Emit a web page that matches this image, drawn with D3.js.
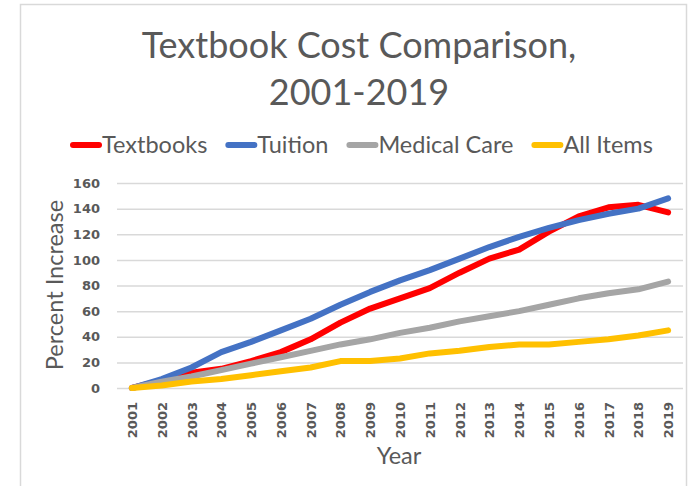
<!DOCTYPE html>
<html>
<head>
<meta charset="utf-8">
<script src="https://cdn.jsdelivr.net/npm/d3@7"></script>
<style>
  html, body { margin: 0; padding: 0; background: #fff; }
  svg { display: block; }
</style>
</head>
<body>
<svg id="chart" width="700" height="486"></svg>
<script>
// ─── DATA ─────────────────────────────────────────────────────────────────────
const years = ['2001', '2002', '2003', '2004', '2005', '2006', '2007', '2008', '2009', '2010',
  '2011', '2012', '2013', '2014', '2015', '2016', '2017', '2018', '2019'];

const textbooks   = [0, 6, 12, 15, 21, 28, 38, 51, 62, 70, 78, 90, 101, 108, 122, 134, 141, 143, 137];
const tuition     = [0, 7, 16, 28, 36, 45, 54, 65, 75, 84, 92, 101, 110, 118, 125, 131, 136, 140, 148];
const medicalCare = [0, 5, 9, 14, 19, 24, 29, 34, 38, 43, 47, 52, 56, 60, 65, 70, 74, 77, 83];
const allItems    = [0, 2, 5, 7, 10, 13, 16, 21, 21, 23, 27, 29, 32, 34, 34, 36, 38, 41, 45];

const seriesNames  = ['Textbooks', 'Tuition', 'Medical Care', 'All Items'];
const seriesValues = [textbooks, tuition, medicalCare, allItems];
const seriesColors = ['#FF0000', '#4472C4', '#A5A5A5', '#FFC000'];

const yTicks = [0, 20, 40, 60, 80, 100, 120, 140, 160];
// ──────────────────────────────────────────────────────────────────────────────

const textColor = '#595959';
const gridColor = '#D9D9D9';
const bodyFont = 'Lato, "Open Sans", sans-serif';

const svg = d3.select('#chart');

// chart frame
svg.append('rect')
  .attr('x', 20.5).attr('y', 4.5)
  .attr('width', 666).attr('height', 520)
  .attr('fill', 'none')
  .attr('stroke', gridColor)
  .attr('stroke-width', 1.5);

const plot = { left: 117, right: 683, top: 183, bottom: 388 };

const x = d3.scalePoint().domain(years).range([plot.left, plot.right]).padding(0.5);
const y = d3.scaleLinear().domain([0, 160]).range([plot.bottom, plot.top]);

// title
const title = svg.append('text')
  .attr('text-anchor', 'middle')
  .attr('fill', textColor)
  .style('font-family', bodyFont)
  .style('font-size', '36px');
title.append('tspan').attr('x', 359).attr('y', 58).text('Textbook Cost Comparison,');
title.append('tspan').attr('x', 359).attr('y', 105).text('2001-2019');

// gridlines + y axis
const yAxis = svg.append('g')
  .attr('transform', `translate(${plot.left},0)`)
  .call(d3.axisLeft(y).tickValues(yTicks).tickSize(-(plot.right - plot.left)).tickPadding(17));
yAxis.select('.domain').remove();
yAxis.selectAll('.tick line').attr('stroke', gridColor).attr('stroke-width', 1.5);
yAxis.selectAll('.tick text')
  .attr('fill', textColor)
  .style('font-family', '"DejaVu Sans", sans-serif')
  .style('font-weight', 'bold')
  .style('font-size', '13px');

// x axis
const xAxis = svg.append('g')
  .attr('transform', `translate(0,${plot.bottom})`)
  .call(d3.axisBottom(x).tickSize(0));
xAxis.select('.domain').remove();
xAxis.selectAll('.tick text')
  .attr('fill', textColor)
  .attr('transform', 'rotate(-90)')
  .attr('text-anchor', 'end')
  .attr('x', -14)
  .attr('y', 0)
  .attr('dy', '0.35em')
  .style('font-family', '"DejaVu Sans", sans-serif')
  .style('font-weight', 'bold')
  .style('font-size', '13px');

// axis titles
svg.append('text')
  .attr('transform', 'translate(63,285) rotate(-90)')
  .attr('text-anchor', 'middle')
  .attr('fill', textColor)
  .style('font-family', bodyFont)
  .style('font-size', '23.5px')
  .text('Percent Increase');

svg.append('text')
  .attr('x', 399).attr('y', 464)
  .attr('text-anchor', 'middle')
  .attr('fill', textColor)
  .style('font-family', bodyFont)
  .style('font-size', '23.5px')
  .text('Year');

// lines
const line = d3.line()
  .x((d, i) => x(years[i]))
  .y((d) => y(d));

svg.append('g')
  .selectAll('path.series')
  .data(seriesValues)
  .join('path')
  .attr('class', 'series')
  .attr('d', line)
  .attr('fill', 'none')
  .attr('stroke', (d, i) => seriesColors[i])
  .attr('stroke-width', 6)
  .attr('stroke-linecap', 'round')
  .attr('stroke-linejoin', 'round');

// legend, laid out left to right
const sampleLen = 26, textGap = 3, itemGap = 21;
const legend = svg.append('g').attr('transform', 'translate(70,145)');
const items = legend.selectAll('g.item')
  .data(seriesNames)
  .join('g')
  .attr('class', 'item');

items.append('line')
  .attr('x1', 3).attr('x2', 3 + sampleLen)
  .attr('stroke', (d, i) => seriesColors[i])
  .attr('stroke-width', 6)
  .attr('stroke-linecap', 'round');

items.append('text')
  .attr('x', 3 + sampleLen + textGap)
  .attr('dy', '0.35em')
  .attr('fill', textColor)
  .style('font-family', bodyFont)
  .style('font-size', '23.5px')
  .text((d) => d);

let cursor = 0;
items.each(function () {
  d3.select(this).attr('transform', `translate(${cursor},0)`);
  cursor += this.getBBox().width + itemGap;
});
</script>
</body>
</html>
